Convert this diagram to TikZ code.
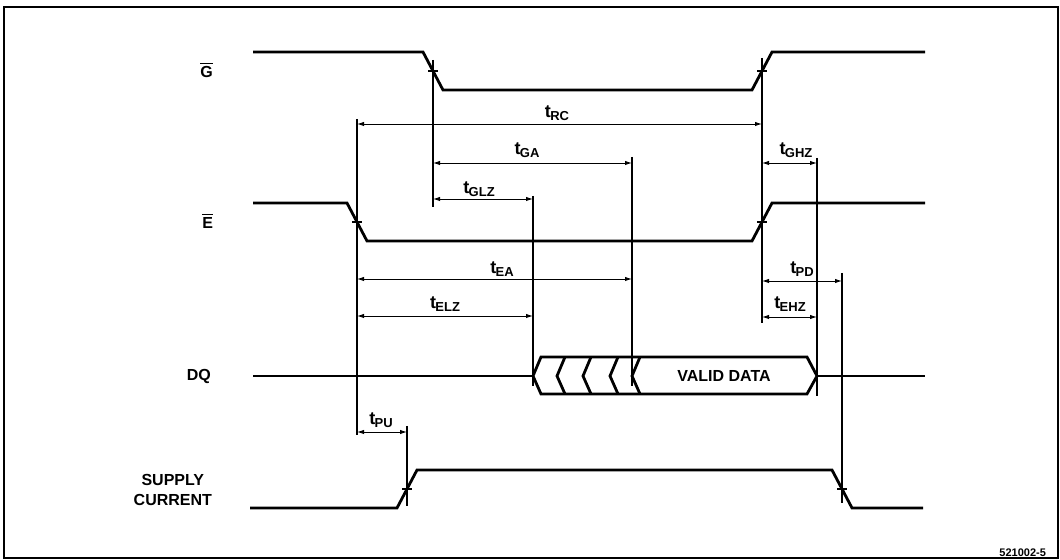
\documentclass[tikz,border=0pt]{standalone}
\usepackage{fontspec}
\setmainfont{Liberation Sans}
\usetikzlibrary{arrows.meta}
\newcommand{\tsub}[1]{{\fontsize{9}{10}\selectfont t}\kern-0.3pt\raisebox{-1.6pt}{\fontsize{6.5}{7}\selectfont #1}}

\begin{document}
\begin{tikzpicture}[x=0.5pt, y=-0.5pt, every node/.style={font=\fontsize{8}{10}\selectfont\bfseries}, >={Latex[length=3.5pt,width=2.2pt]},
	sig/.style={line width=1.4pt, line join=miter},
	dim/.style={<->, line width=0.45pt},
	refline/.style={line width=0.8pt}]
	\useasboundingbox (0,0) rectangle (1060,560);
	\draw[line width=0.6pt] (4,7) rectangle (1058,558);
	% event points on the waveforms
	\coordinate (gfall) at (433,71);
	\coordinate (grise) at (762,71);
	\coordinate (efall) at (357,222);
	\coordinate (erise) at (762,222);
	\coordinate (dqon) at (533,376);
	\coordinate (dqval) at (632,376);
	\coordinate (dqoff) at (817,376);
	\coordinate (ion) at (407,489);
	\coordinate (ioff) at (842,489);
	% signal names
	\node[anchor=east] (lg) at (220,70) {$\overline{\mbox{G}}$};
	\node[anchor=east] (le) at (220,221) {$\overline{\mbox{E}}$};
	\node[anchor=east] (ldq) at (218,376) {DQ};
	\node[anchor=east, align=center] (lsup) at (219,490) {SUPPLY\\CURRENT};
	% waveforms
	\draw[sig] (253,52) -- (423,52) -- (443,90) -- (752,90) -- (772,52) -- (925,52);
	\draw[sig] (253,203) -- (347,203) -- (367,241) -- (752,241) -- (772,203) -- (925,203);
	\draw[sig] (250,508) -- (397,508) -- (417,470) -- (832,470) -- (852,508) -- (923,508);
	\draw[sig] (253,376) -- (dqon);
	\draw[sig] (dqoff) -- (925,376);
	\draw[sig] (dqon) -- (541,357) -- (807,357) -- (dqoff) -- (807,394) -- (541,394) -- cycle;
	\foreach \x in {557,583,610,632}
		\draw[sig] (\x+8,357) -- (\x,376) -- (\x+8,394);
	\node (valid) at (724,376) {VALID DATA};
	% reference lines
	\foreach \p/\a/\b in {gfall/60/207, efall/119/435, grise/58/323, dqval/157/386, dqon/196/386, dqoff/158/396, ioff/273/503, ion/426/506}
		\draw[refline] (\p |- 0,\a) -- (\p |- 0,\b);
	\foreach \p in {gfall,grise,efall,erise,ion,ioff}
		\draw[refline] ([xshift=-2.5pt]\p) -- ([xshift=2.5pt]\p);
	% timing intervals
	\foreach \a/\b/\y in {efall/grise/124, gfall/dqval/163, gfall/dqon/199, grise/dqoff/163, efall/dqval/279, efall/dqon/316, grise/ioff/281, grise/dqoff/317, efall/ion/432}
		\draw[dim] (\a |- 0,\y) -- (\b |- 0,\y);
	\foreach \nm/\sub/\x/\y in {trc/RC/557/113, tga/GA/527/150, tglz/GLZ/479/189, tghz/GHZ/796/150, tea/EA/502/269, telz/ELZ/445/304, tpd/PD/802/269, tehz/EHZ/790/304, tpu/PU/381/420}
		\node (\nm) at (\x,\y) {\tsub{\sub}};
	\node[anchor=east, font=\fontsize{5.5}{6}\selectfont\bfseries] (fig) at (1053,553) {521002-5};
\end{tikzpicture}
\end{document}
